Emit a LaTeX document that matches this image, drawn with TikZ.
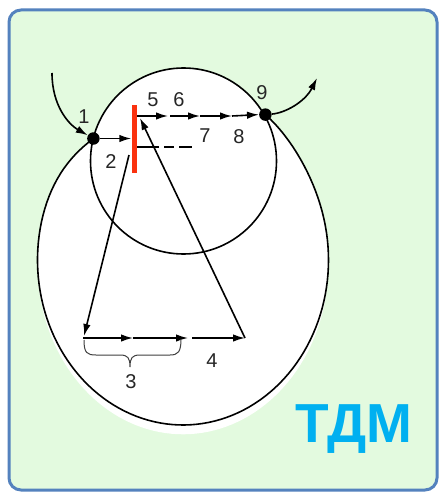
\documentclass[tikz,border=0pt]{standalone}
\usepackage{fontspec}
\setmainfont{Liberation Sans}
\usetikzlibrary{arrows.meta}
\definecolor{framegreen}{RGB}{227,250,223}
\definecolor{frameblue}{RGB}{84,130,190}
\definecolor{barred}{RGB}{250,50,15}
\definecolor{tdmblue}{RGB}{0,176,240}
\begin{document}
\begin{tikzpicture}[x=1pt,y=-1pt,
  line/.style={line width=1.6pt, black},
  arr/.style={line, -{Latex[length=12pt,width=7.5pt]}},
  lbl/.style={font=\fontsize{20}{22}\selectfont, text=black!85, inner sep=0pt},
  dot/.style={circle, fill=black, inner sep=0pt, minimum size=12.5pt},
  bar/.style={fill=barred, inner sep=0pt, minimum width=5pt, minimum height=68pt},
  bracestyle/.style={line width=1pt, black!75},
]
\useasboundingbox (0,0) rectangle (439,492);
\fill[white] (0,0) rectangle (439,492);
\draw[frameblue, line width=3pt, fill=framegreen, rounded corners=12pt] (9,10) rectangle (437,490);

% white fills
\begin{scope}[shift={(0,115)}, yscale=1.03, shift={(0,-115)}]
\fill[white] plot[domain=128:415.5, samples=120, variable=\t] ({183+145.5*cos(\t)}, {260-165*sin(\t)-36*cos(\t)*(max(0,sin(\t)))^4}) -- cycle;
\end{scope}
\fill[white] plot[domain=128:415.5, samples=120, variable=\t] ({183+145.5*cos(\t)}, {260-165*sin(\t)-36*cos(\t)*(max(0,sin(\t)))^4}) -- cycle;
\fill[white] (183.5,161) circle (93);

% outlines
\draw[line] (183.5,161) circle (93);
\draw[line] plot[domain=128:415.5, samples=120, variable=\t] ({183+145.5*cos(\t)}, {260-165*sin(\t)-36*cos(\t)*(max(0,sin(\t)))^4});

% nodes
\node[dot] (d1) at (93.4,138.5) {};
\node[dot] (d9) at (265.4,114.6) {};
\node[bar] (bar) at (134,139) {};

\coordinate (in) at (52,73);
\coordinate (out) at (317,78);
\coordinate (t0) at (137,116);
\coordinate (t1) at (168,116);
\coordinate (t2s) at (170,116);
\coordinate (t2) at (200,116);
\coordinate (t3) at (232,116);
\coordinate (ds) at (137,147);
\coordinate (de) at (192,147);
\coordinate (a0) at (129,155);
\coordinate (b0) at (84,336);
\coordinate (r0) at (83,338);
\coordinate (b1) at (133,338);
\coordinate (b2) at (188,338);
\coordinate (b3s) at (192,338);
\coordinate (b3) at (245,338);
\coordinate (tb) at (140,118);

% connectors
\draw[arr] (in) .. controls (52,105) and (68,124) .. (d1);
\draw[arr] (d9) .. controls (285,113) and (305,102) .. (out);
\draw[arr] (d1) -- (d1 -| bar.west);
\draw[line, dash pattern=on 22pt off 5pt on 10pt off 5pt on 13pt] (ds) -- (de);
\draw[arr] (t0) -- (t1);
\draw[arr] (t2s) -- (t2);
\draw[arr] (t2) -- (t3);
\draw[arr] (t3) -- (d9.west);
\draw[arr] (a0) -- (b0);
\draw[arr] (r0) -- (b1);
\draw[arr] (b1) -- (b2);
\draw[arr] (b3s) -- (b3);
\draw[arr] (b3) -- (tb);

% brace
\draw[bracestyle] (84,340) .. controls (84,353) and (87,355) .. (96,355) -- (120,355) .. controls (128,355) and (130,358) .. (130,367)
  .. controls (130,358) and (132,355) .. (140,355) -- (170,355) .. controls (178,355) and (181,352) .. (181,339);

% labels
\node[lbl] (l1) at (84,117) {1};
\node[lbl] (l2) at (111,162) {2};
\node[lbl] (l3) at (131,382) {3};
\node[lbl] (l4) at (212,361) {4};
\node[lbl] (l5) at (153,100) {5};
\node[lbl] (l6) at (179,100) {6};
\node[lbl] (l7) at (205,136) {7};
\node[lbl] (l8) at (239,137) {8};
\node[lbl] (l9) at (262,93) {9};

\node[anchor=base west, inner sep=0pt, text=tdmblue, font=\fontsize{55}{60}\selectfont\bfseries] (tdm) at (295,442) {ТДМ};
\end{tikzpicture}
\end{document}
